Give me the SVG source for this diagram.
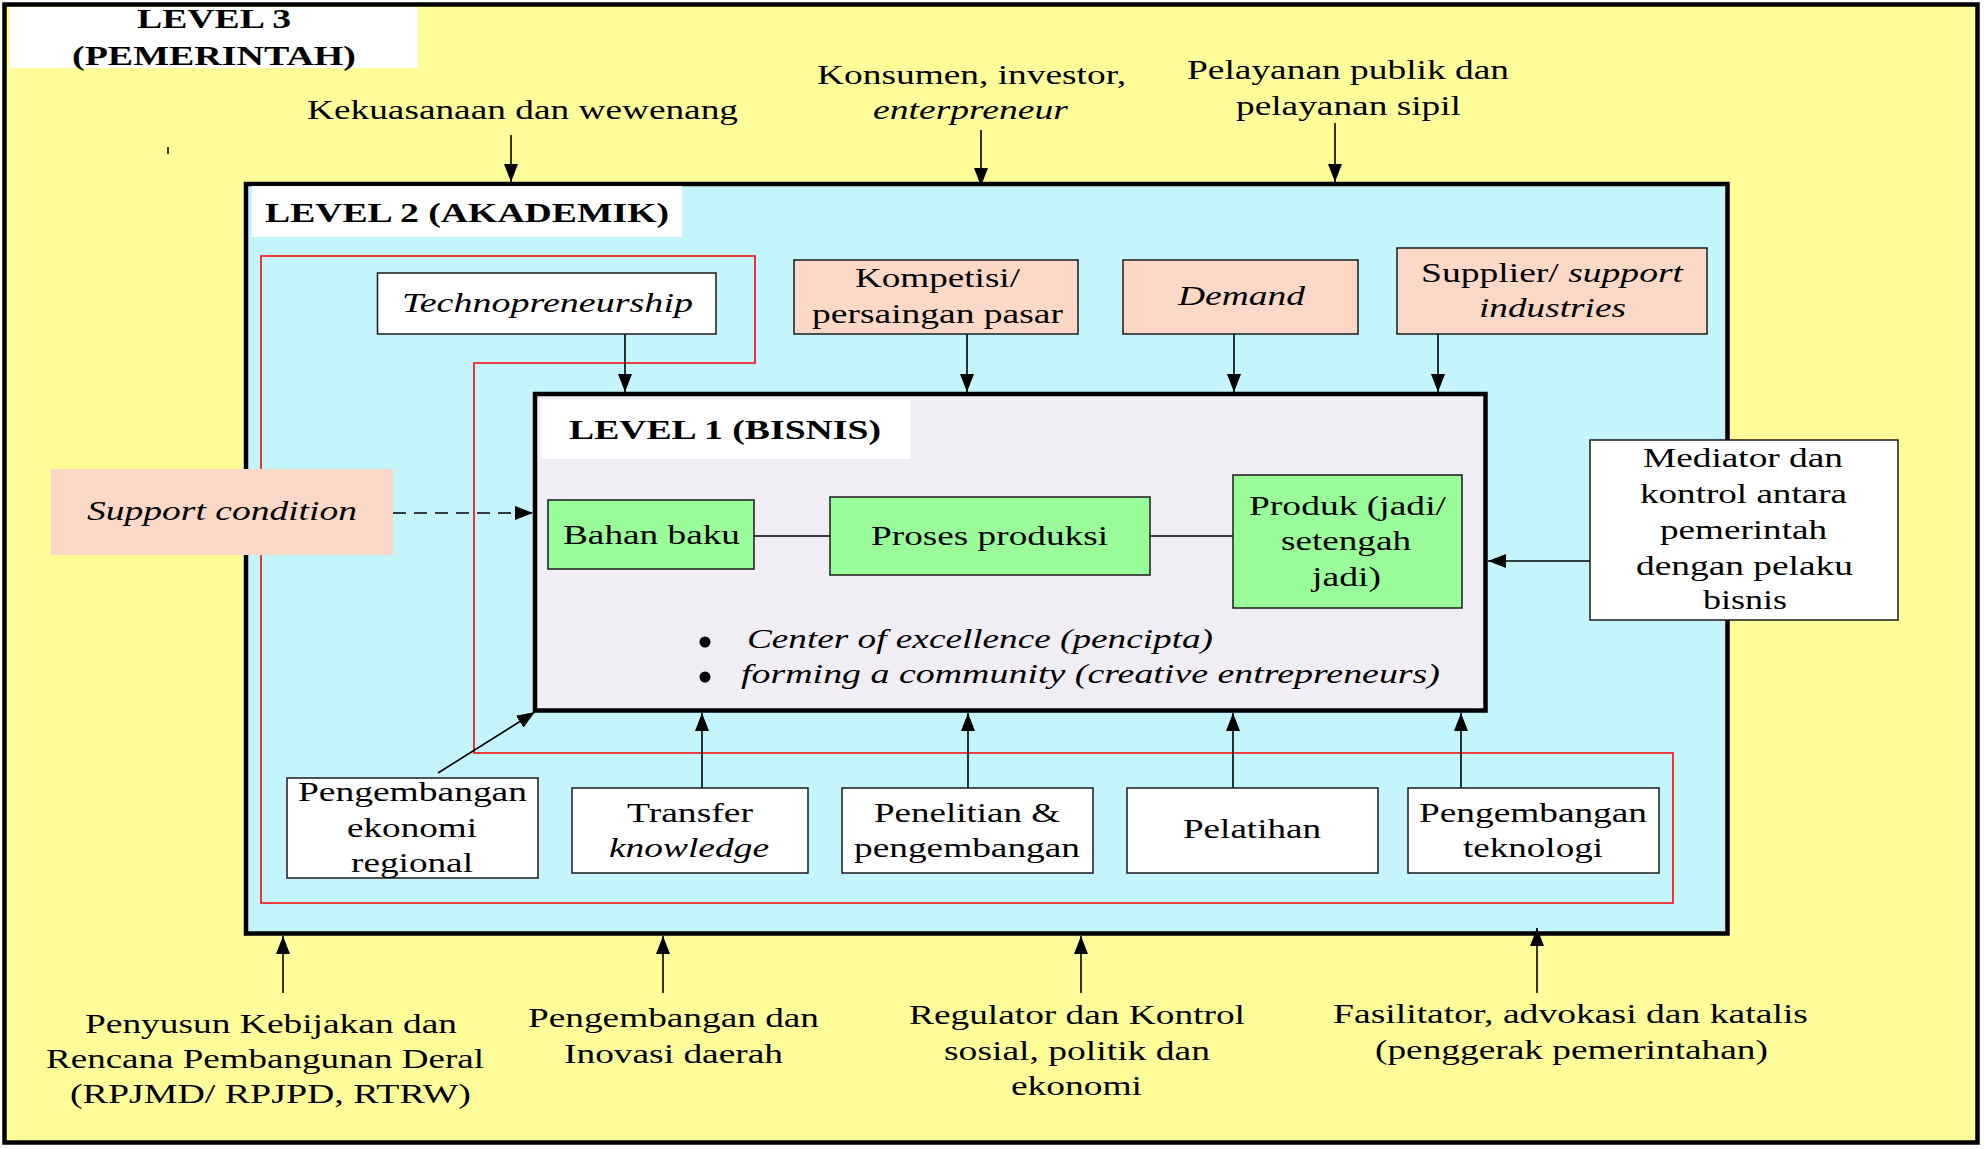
<svg xmlns="http://www.w3.org/2000/svg" width="1986" height="1149" viewBox="0 0 1986 1149">
<style>
.t{font-family:"Liberation Serif","Times New Roman",serif;font-size:28px;fill:#000}
.i{font-style:italic}
.b{font-weight:bold}
.box{stroke:#1a1a1a;stroke-width:1.5}
.wht{fill:#ffffff}
.grn{fill:#99fd99}
.pch{fill:#fcd8c7}
.con{stroke:#000;stroke-width:1.6;fill:none}
</style>
<defs>
<marker id="ah" markerUnits="userSpaceOnUse" markerWidth="18" markerHeight="14" refX="18" refY="7" orient="auto">
<path d="M0,0 L18,7 L0,14 z" fill="#000"/>
</marker>
</defs>

<g id="level3">
<rect x="4.5" y="4.5" width="1973" height="1138" fill="#fffd99" stroke="#000" stroke-width="4.5"/>
<rect x="10" y="7" width="408" height="61" fill="#ffffff"/>
<text class="t b" x="137" y="28" font-size="27" textLength="154" lengthAdjust="spacingAndGlyphs">LEVEL 3</text>
<text class="t b" x="72" y="65" font-size="27" textLength="284" lengthAdjust="spacingAndGlyphs">(PEMERINTAH)</text>
<line x1="168" y1="147" x2="168" y2="154" stroke="#000" stroke-width="1.5"/>
</g>

<g id="level2">
<rect x="246" y="184" width="1481.5" height="749.5" fill="#c4f4fc" stroke="#000" stroke-width="4.5"/>
<rect x="252" y="186" width="430" height="51" fill="#ffffff"/>
<text class="t b" x="265" y="222" font-size="32" textLength="404" lengthAdjust="spacingAndGlyphs">LEVEL 2 (AKADEMIK)</text>
</g>

<g id="red-frame">
<path d="M261,256 L755,256 L755,363 L474,363 L474,753 L1673,753 L1673,903 L261,903 Z" fill="none" stroke="#ff0000" stroke-width="1.6"/>
</g>

<g id="level1">
<rect x="535" y="394" width="950.5" height="316.5" fill="#f0eef4" stroke="#000" stroke-width="4.5"/>
<rect x="541" y="400" width="369" height="59" fill="#ffffff"/>
<text class="t b" x="569" y="439" font-size="32" textLength="312" lengthAdjust="spacingAndGlyphs">LEVEL 1 (BISNIS)</text>
<circle cx="705" cy="642" r="5.5" fill="#000"/>
<circle cx="705" cy="677" r="5.5" fill="#000"/>
<text class="t i" x="747" y="648" textLength="466" lengthAdjust="spacingAndGlyphs">Center of excellence (pencipta)</text>
<text class="t i" x="741" y="683" textLength="699" lengthAdjust="spacingAndGlyphs">forming a community (creative entrepreneurs)</text>
</g>

<g id="connectors">
<line class="con" x1="754" y1="536" x2="830" y2="536"/>
<line class="con" x1="1150" y1="536" x2="1233" y2="536"/>
<line class="con" x1="511" y1="135" x2="511" y2="182" marker-end="url(#ah)"/>
<line class="con" x1="981" y1="130" x2="981" y2="186" marker-end="url(#ah)"/>
<line class="con" x1="1335" y1="123" x2="1335" y2="182" marker-end="url(#ah)"/>
<line class="con" x1="625" y1="334" x2="625" y2="392" marker-end="url(#ah)"/>
<line class="con" x1="967" y1="334" x2="967" y2="392" marker-end="url(#ah)"/>
<line class="con" x1="1234" y1="334" x2="1234" y2="392" marker-end="url(#ah)"/>
<line class="con" x1="1438" y1="334" x2="1438" y2="392" marker-end="url(#ah)"/>
<line class="con" x1="393" y1="513" x2="533" y2="513" stroke-dasharray="13,8" marker-end="url(#ah)"/>
<line class="con" x1="1590" y1="561" x2="1488" y2="561" marker-end="url(#ah)"/>
<line class="con" x1="438" y1="773" x2="535" y2="712" marker-end="url(#ah)"/>
<line class="con" x1="702" y1="788" x2="702" y2="713" marker-end="url(#ah)"/>
<line class="con" x1="968" y1="788" x2="968" y2="713" marker-end="url(#ah)"/>
<line class="con" x1="1233" y1="788" x2="1233" y2="713" marker-end="url(#ah)"/>
<line class="con" x1="1461" y1="788" x2="1461" y2="713" marker-end="url(#ah)"/>
<line class="con" x1="283" y1="993" x2="283" y2="936" marker-end="url(#ah)"/>
<line class="con" x1="663" y1="993" x2="663" y2="936" marker-end="url(#ah)"/>
<line class="con" x1="1081" y1="993" x2="1081" y2="936" marker-end="url(#ah)"/>
<line class="con" x1="1537" y1="993" x2="1537" y2="928" marker-end="url(#ah)"/>
</g>

<g id="label-kekuasaan">
<text class="t" x="307" y="119" font-size="27" textLength="431" lengthAdjust="spacingAndGlyphs">Kekuasanaan dan wewenang</text>
</g>
<g id="label-konsumen">
<text class="t" x="817" y="84" font-size="27" textLength="309" lengthAdjust="spacingAndGlyphs">Konsumen, investor,</text>
<text class="t i" x="873" y="119" font-size="27" textLength="195" lengthAdjust="spacingAndGlyphs">enterpreneur</text>
</g>
<g id="label-pelayanan">
<text class="t" x="1187" y="79" font-size="27" textLength="322" lengthAdjust="spacingAndGlyphs">Pelayanan publik dan</text>
<text class="t" x="1236" y="115" font-size="27" textLength="225" lengthAdjust="spacingAndGlyphs">pelayanan sipil</text>
</g>

<g id="technopreneurship">
<rect class="box wht" x="377.5" y="273" width="338.5" height="61"/>
<text class="t i" x="402" y="312" textLength="291" lengthAdjust="spacingAndGlyphs">Technopreneurship</text>
</g>
<g id="kompetisi">
<rect class="box pch" x="794" y="260" width="284" height="74"/>
<text class="t" x="855" y="287" textLength="165" lengthAdjust="spacingAndGlyphs">Kompetisi/</text>
<text class="t" x="812" y="323" textLength="251" lengthAdjust="spacingAndGlyphs">persaingan pasar</text>
</g>
<g id="demand">
<rect class="box pch" x="1123" y="260" width="235" height="74"/>
<text class="t i" x="1178" y="305" textLength="127" lengthAdjust="spacingAndGlyphs">Demand</text>
</g>
<g id="supplier">
<rect class="box pch" x="1397" y="248" width="310" height="86"/>
<text class="t" x="1421" y="282" textLength="262" lengthAdjust="spacingAndGlyphs">Supplier/ <tspan class="i">support</tspan></text>
<text class="t i" x="1479" y="317" textLength="147" lengthAdjust="spacingAndGlyphs">industries</text>
</g>

<g id="support-condition">
<rect class="pch" x="51" y="469" width="342" height="86"/>
<text class="t i" x="87" y="520" textLength="270" lengthAdjust="spacingAndGlyphs">Support condition</text>
</g>

<g id="bahan-baku">
<rect class="box grn" x="548" y="500" width="206" height="69"/>
<text class="t" x="563" y="544" textLength="177" lengthAdjust="spacingAndGlyphs">Bahan baku</text>
</g>
<g id="proses-produksi">
<rect class="box grn" x="830" y="497" width="320" height="78"/>
<text class="t" x="871" y="545" textLength="237" lengthAdjust="spacingAndGlyphs">Proses produksi</text>
</g>
<g id="produk">
<rect class="box grn" x="1233" y="475" width="229" height="133"/>
<text class="t" x="1249" y="515" textLength="197" lengthAdjust="spacingAndGlyphs">Produk (jadi/</text>
<text class="t" x="1281" y="550" textLength="130" lengthAdjust="spacingAndGlyphs">setengah</text>
<text class="t" x="1312" y="586" textLength="69" lengthAdjust="spacingAndGlyphs">jadi)</text>
</g>

<g id="mediator">
<rect class="box wht" x="1590" y="440" width="308" height="180"/>
<text class="t" x="1643" y="467" textLength="200" lengthAdjust="spacingAndGlyphs">Mediator dan</text>
<text class="t" x="1640" y="503" textLength="207" lengthAdjust="spacingAndGlyphs">kontrol antara</text>
<text class="t" x="1660" y="539" textLength="167" lengthAdjust="spacingAndGlyphs">pemerintah</text>
<text class="t" x="1636" y="575" textLength="217" lengthAdjust="spacingAndGlyphs">dengan pelaku</text>
<text class="t" x="1703" y="609" textLength="84" lengthAdjust="spacingAndGlyphs">bisnis</text>
</g>

<g id="pengembangan-ekonomi">
<rect class="box wht" x="287" y="778" width="251" height="100"/>
<text class="t" x="298" y="801" textLength="229" lengthAdjust="spacingAndGlyphs">Pengembangan</text>
<text class="t" x="347" y="837" textLength="130" lengthAdjust="spacingAndGlyphs">ekonomi</text>
<text class="t" x="351" y="872" textLength="122" lengthAdjust="spacingAndGlyphs">regional</text>
</g>
<g id="transfer-knowledge">
<rect class="box wht" x="572" y="788" width="236" height="85"/>
<text class="t" x="627" y="822" textLength="126" lengthAdjust="spacingAndGlyphs">Transfer</text>
<text class="t i" x="609" y="857" textLength="160" lengthAdjust="spacingAndGlyphs">knowledge</text>
</g>
<g id="penelitian">
<rect class="box wht" x="842" y="788" width="251" height="85"/>
<text class="t" x="874" y="822" textLength="186" lengthAdjust="spacingAndGlyphs">Penelitian &amp;</text>
<text class="t" x="854" y="857" textLength="226" lengthAdjust="spacingAndGlyphs">pengembangan</text>
</g>
<g id="pelatihan">
<rect class="box wht" x="1127" y="788" width="251" height="85"/>
<text class="t" x="1183" y="838" textLength="138" lengthAdjust="spacingAndGlyphs">Pelatihan</text>
</g>
<g id="pengembangan-teknologi">
<rect class="box wht" x="1408" y="788" width="251" height="85"/>
<text class="t" x="1419" y="822" textLength="228" lengthAdjust="spacingAndGlyphs">Pengembangan</text>
<text class="t" x="1463" y="857" textLength="140" lengthAdjust="spacingAndGlyphs">teknologi</text>
</g>

<g id="label-penyusun">
<text class="t" x="85" y="1033" textLength="372" lengthAdjust="spacingAndGlyphs">Penyusun Kebijakan dan</text>
<text class="t" x="46" y="1068" textLength="438" lengthAdjust="spacingAndGlyphs">Rencana Pembangunan Deral</text>
<text class="t" x="70" y="1103" textLength="401" lengthAdjust="spacingAndGlyphs">(RPJMD/ RPJPD, RTRW)</text>
</g>
<g id="label-inovasi">
<text class="t" x="528" y="1027" textLength="291" lengthAdjust="spacingAndGlyphs">Pengembangan dan</text>
<text class="t" x="564" y="1063" textLength="219" lengthAdjust="spacingAndGlyphs">Inovasi daerah</text>
</g>
<g id="label-regulator">
<text class="t" x="909" y="1024" textLength="336" lengthAdjust="spacingAndGlyphs">Regulator dan Kontrol</text>
<text class="t" x="944" y="1060" textLength="266" lengthAdjust="spacingAndGlyphs">sosial, politik dan</text>
<text class="t" x="1011" y="1095" textLength="131" lengthAdjust="spacingAndGlyphs">ekonomi</text>
</g>
<g id="label-fasilitator">
<text class="t" x="1333" y="1023" textLength="475" lengthAdjust="spacingAndGlyphs">Fasilitator, advokasi dan katalis</text>
<text class="t" x="1375" y="1059" textLength="393" lengthAdjust="spacingAndGlyphs">(penggerak pemerintahan)</text>
</g>
</svg>
